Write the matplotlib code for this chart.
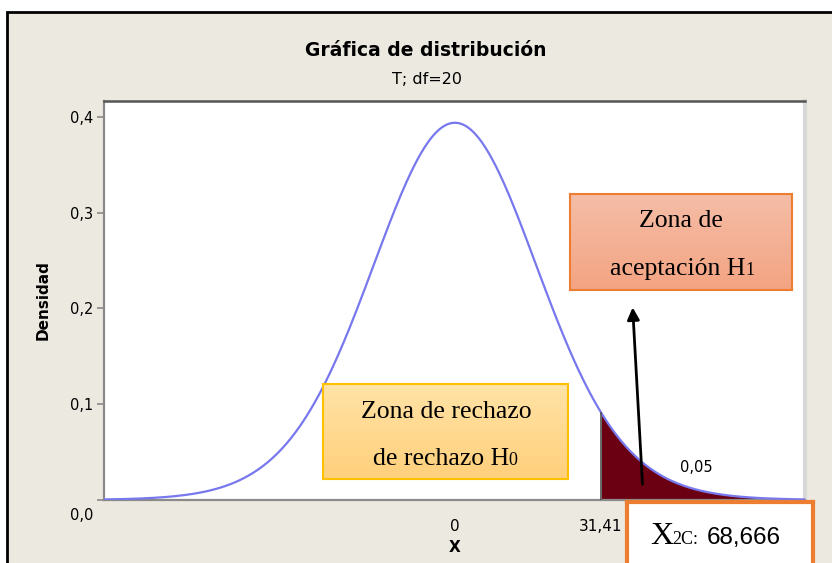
import math
import numpy as np
import matplotlib.pyplot as plt
from matplotlib.patches import Rectangle
from matplotlib.transforms import ScaledTranslation

# ------------------------------------------------
# Data
# ------------------------------------------------
dof = 20
t_crit = 1.725          # right tail, alpha = 0.05
alpha_label = '0,05'
x_range = [-4.15, 4.14]
xtick_pos = [0, t_crit]
xtick_labels = ['0', '31,41']
ytick_pos = [0.0, 0.1, 0.2, 0.3, 0.4]
ytick_labels = ['0,0', '0,1', '0,2', '0,3', '0,4']


def t_pdf(x, v):
    c = math.gamma((v + 1) / 2) / (math.sqrt(v * math.pi) * math.gamma(v / 2))
    return c * (1 + x ** 2 / v) ** (-(v + 1) / 2)


x = np.linspace(x_range[0], x_range[1], 600)
y = t_pdf(x, dof)

W, H = 832, 563
BEIGE = '#ECE9E0'

fig = plt.figure(figsize=(W / 100, H / 100), dpi=100)
fig.patch.set_facecolor('white')


def fx(px):
    return px / W


def fy(py):
    return 1 - py / H


# beige panel with black border (left + top)
fig.patches.append(Rectangle((fx(7), fy(700)), 2, fy(12) - fy(700), transform=fig.transFigure,
                             facecolor=BEIGE, edgecolor='black', linewidth=2, zorder=-10))

ax = fig.add_axes([fx(104), fy(500), fx(805) - fx(104), fy(101) - fy(500)])
ax.set_facecolor('white')

ax.plot(x, y, color='#7878EE', linewidth=1.6, zorder=3)
mask = x >= t_crit
ax.fill_between(x[mask], 0, y[mask], color='#6A0012', linewidth=0, zorder=2)
ax.vlines(t_crit, 0, t_pdf(t_crit, dof), color='#505050', linewidth=1.2, zorder=3)

ax.set_xlim(x_range)
ax.set_ylim(0, 0.4167)

ax.set_xticks(xtick_pos)
ax.set_xticklabels(xtick_labels)
ax.set_yticks(ytick_pos)
ax.set_yticklabels(ytick_labels)
ax.tick_params(axis='x', length=0, pad=14, labelsize=11)
ax.tick_params(axis='y', length=5, width=1.2, color='#8a8a8a', pad=3, labelsize=10.5)
# the 0,0 label sits below its tick
lab0 = ax.get_yticklabels()[0]
lab0.set_transform(lab0.get_transform() + ScaledTranslation(0, -14 / 100, fig.dpi_scale_trans))

for s in ['left', 'bottom']:
    ax.spines[s].set_color('#8a8a8a')
    ax.spines[s].set_linewidth(1.6)
ax.spines['top'].set_color('#555555')
ax.spines['top'].set_linewidth(1.8)
ax.spines['right'].set_color('#D8D8D8')
ax.spines['right'].set_linewidth(3)

ax.text(2.86, 0.034, alpha_label, fontsize=10.5, ha='center', va='center')

ax.annotate('', xy=(2.10, 0.204), xytext=(2.22, 0.0136),
            arrowprops=dict(arrowstyle='-|>', color='black', lw=2, mutation_scale=18),
            zorder=5)

# titles
fig.text(fx(426), fy(51), 'Gráfica de distribución', fontsize=13.5, fontweight='bold',
         ha='center', va='center')
fig.text(fx(427), fy(79), 'T; df=20', fontsize=11.5, ha='center', va='center')
fig.text(fx(43), fy(300), 'Densidad', fontsize=11, fontweight='bold', rotation=90,
         ha='center', va='center')
fig.text(fx(455), fy(548), 'X', fontsize=11, fontweight='bold', ha='center', va='center')


def grad_box(x0, y0, x1, y1, top, bottom, edge, lw):
    bax = fig.add_axes([fx(x0), fy(y1), fx(x1) - fx(x0), fy(y0) - fy(y1)], zorder=5)
    c0 = np.array(plt.matplotlib.colors.to_rgb(top))
    c1 = np.array(plt.matplotlib.colors.to_rgb(bottom))
    t = np.linspace(0, 1, 64)[:, None, None]
    img = c0 * (1 - t) + c1 * t
    bax.imshow(img, aspect='auto', extent=[0, 1, 0, 1])
    bax.set_xlim(0, 1)
    bax.set_ylim(0, 1)
    bax.set_xticks([])
    bax.set_yticks([])
    for s in bax.spines.values():
        s.set_color(edge)
        s.set_linewidth(lw)
    return bax


def with_sub(bax, xc, yb, main, sub, size, subsize):
    # main text + small index on the same baseline
    t = bax.text(xc, yb, main, fontsize=size, family=serif, ha='center', va='baseline')
    bax.annotate(sub, xy=(1, yb), xycoords=(t, 'axes fraction'), fontsize=subsize,
                 family=serif, ha='left', va='baseline')
    return t


serif = 'Liberation Serif'

b1 = grad_box(570, 194, 792, 290, '#F5BDA7', '#F3A482', '#ED7D31', 1.5)
b1.text(0.5, 0.72, 'Zona de', fontsize=18.5, family=serif, ha='center', va='center')
with_sub(b1, 0.485, 0.16, 'aceptación H', '1', 18.5, 13)

b0 = grad_box(323, 384, 568, 479, '#FFE3A6', '#FFD07C', '#FFC000', 1.5)
b0.text(0.505, 0.71, 'Zona de rechazo', fontsize=18.5, family=serif, ha='center', va='center')
with_sub(b0, 0.48, 0.15, 'de rechazo H', '0', 18.5, 13)

bx = fig.add_axes([fx(627), fy(575), fx(813) - fx(627), fy(502) - fy(575)], zorder=5)
bx.set_facecolor('white')
bx.set_xticks([])
bx.set_yticks([])
for s in bx.spines.values():
    s.set_color('#ED7D31')
    s.set_linewidth(3)
fig.text(fx(650), fy(544), 'X', fontsize=23, family=serif, ha='left', va='baseline', zorder=6)
fig.text(fx(672), fy(544), '2C:', fontsize=13, family=serif, ha='left', va='baseline', zorder=6)
fig.text(fx(781), fy(544), '68,666', fontsize=17.5, family='Liberation Sans',
         ha='right', va='baseline', zorder=6)

fig.savefig('out.png', dpi=100)
